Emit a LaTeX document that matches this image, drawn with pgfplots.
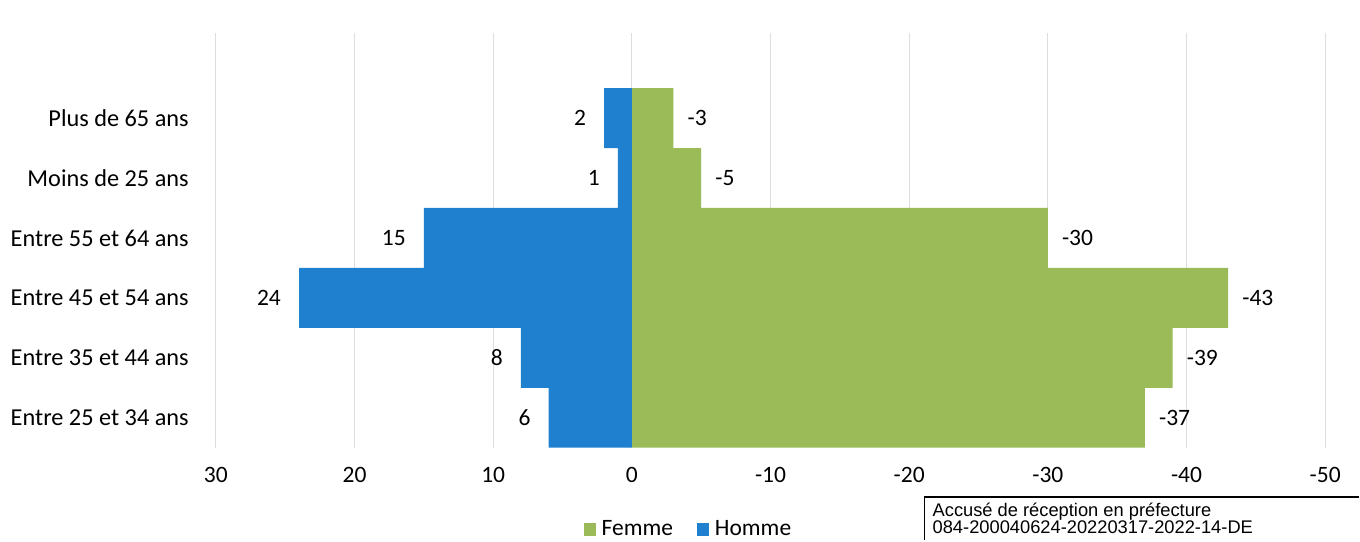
\documentclass[border=0pt]{standalone}
\usepackage{pgfplots}
\pgfplotsset{compat=1.18}
\usepackage{fontspec}
\setmainfont{Carlito}
\newfontfamily\arialfont{Liberation Sans}
\definecolor{hblue}{HTML}{1F80D0}
\definecolor{fgreen}{HTML}{9BBB59}
\definecolor{fgreendk}{HTML}{76923C}
\begin{document}
\begin{tikzpicture}
\path (0pt,0pt) rectangle (1360pt,540pt);
\begin{axis}[
  at={(216pt,92pt)}, anchor=south west,
  scale only axis, width=1110pt, height=415pt,
  x dir=reverse, xmin=-50, xmax=30,
  ymin=-0.5, ymax=6.42,
  xtick={30,20,10,0,-10,-20,-30,-40,-50},
  ytick={0,1,2,3,4,5},
  yticklabels={Entre 25 et 34 ans, Entre 35 et 44 ans, Entre 45 et 54 ans, Entre 55 et 64 ans, Moins de 25 ans, Plus de 65 ans},
  axis line style={draw=none},
  xmajorgrids, grid style={draw=black!13, line width=1pt},
  major tick length=0pt,
  font=\fontsize{23.5}{26}\selectfont,
  /pgf/number format/assume math mode=true,
  xticklabel style={inner sep=0pt, yshift=-19pt},
  yticklabel style={inner sep=0pt, xshift=-27pt, font=\fontsize{24.3}{26}\selectfont},
  xbar, bar width=1, bar shift=0pt,
  point meta=x,
  legend columns=2,
  legend style={at={(axis description cs:0.426,-0.196)}, anchor=center, draw=none, fill=none,
    font=\fontsize{23.5}{26}\selectfont, /tikz/every even column/.append style={column sep=22pt},
    /tikz/every odd column/.append style={column sep=4pt}},
  legend image code/.code={\fill[#1] (0pt,-6.5pt) rectangle (12pt,6.5pt);},
]
\addplot[fill=fgreen, draw=none, nodes near coords,
  every node near coord/.append style={anchor=west, inner sep=0pt, xshift=14pt, black}]
  coordinates {(-37,0) (-39,1) (-43,2) (-30,3) (-5,4) (-3,5)};
\addlegendentry{Femme}
\addplot[fill=hblue, draw=none, nodes near coords,
  every node near coord/.append style={anchor=east, inner sep=0pt, xshift=-18pt, black}]
  coordinates {(6,0) (8,1) (24,2) (15,3) (1,4) (2,5)};
\addlegendentry{Homme}
\end{axis}
\draw[line width=1.6pt] (925pt,0pt) -- (925pt,43pt) -- (1360pt,43pt);
\node[anchor=base west, inner sep=0pt, font=\arialfont\fontsize{18.3}{19}\selectfont] at (933pt,23pt) {Accusé de réception en préfecture};
\node[anchor=base west, inner sep=0pt, font=\arialfont\fontsize{18.3}{19}\selectfont] at (933pt,6pt) {084-200040624-20220317-2022-14-DE};
\end{tikzpicture}
\end{document}
